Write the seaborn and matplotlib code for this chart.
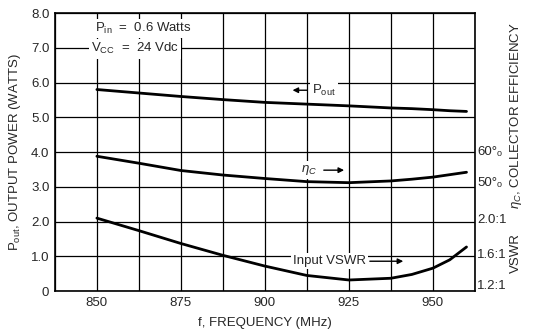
import matplotlib
matplotlib.use("Agg")
import matplotlib.pyplot as plt
import seaborn as sns
import pandas as pd
import numpy as np

freq = [850, 862.5, 875, 887.5, 900, 912.5, 925, 937.5, 943.75, 950, 955, 960]
pout = [5.80, 5.70, 5.60, 5.51, 5.43, 5.38, 5.33, 5.27, 5.25, 5.22, 5.19, 5.17]
eff = [3.88, 3.68, 3.47, 3.34, 3.24, 3.15, 3.12, 3.17, 3.22, 3.28, 3.35, 3.42]
vswr = [2.10, 1.74, 1.37, 1.03, 0.72, 0.45, 0.32, 0.37, 0.48, 0.66, 0.90, 1.27]

x_ticks = [850, 875, 900, 925, 950]
y_ticks = [0, 1, 2, 3, 4, 5, 6, 7, 8]
y_labels = ["0", "1.0", "2.0", "3.0", "4.0", "5.0", "6.0", "7.0", "8.0"]
right_pos = [4.0, 3.1, 2.05, 1.05, 0.15]
right_labels = ["60°\u2092", "50°\u2092", "2.0:1", "1.6:1", "1.2:1"]

sns.set_theme(style="white")
plt.rcParams['font.family'] = ['Liberation Sans Narrow', 'Liberation Sans', 'DejaVu Sans']
plt.rcParams['mathtext.fontset'] = 'custom'
plt.rcParams['mathtext.rm'] = 'Liberation Sans'
plt.rcParams['mathtext.it'] = 'Liberation Sans:italic'

FS = 9.5
fig = plt.figure(figsize=(5.33, 3.35), dpi=100)
ax = fig.add_axes([0.103, 0.131, 0.788, 0.830])

df = pd.DataFrame({"f": freq * 3,
                   "v": pout + eff + vswr,
                   "s": ["pout"] * len(freq) + ["eff"] * len(freq) + ["vswr"] * len(freq)})
for s in ["pout", "eff", "vswr"]:
    sub = df[df.s == s]
    sns.lineplot(x=sub.f, y=sub.v, ax=ax, color="black", lw=2.0, estimator=None, sort=True)

ax.set_xlim(837.5, 962.5)
ax.set_ylim(0, 8)
ax.set_xticks(x_ticks)
ax.set_xticks(np.arange(837.5, 962.6, 12.5), minor=True)
ax.set_xticklabels([str(t) for t in x_ticks], fontsize=FS)
ax.set_yticks(y_ticks)
ax.set_yticklabels(y_labels, fontsize=FS)
ax.set_axisbelow(True)
ax.grid(True, which="both", color="black", lw=0.9, zorder=0)
ax.tick_params(axis="both", which="both", length=0, pad=4)
for sp in ax.spines.values():
    sp.set_color("black")
    sp.set_linewidth(1.2)
ax.set_xlabel("f, FREQUENCY (MHz)", fontsize=FS, labelpad=6)
ax.set_ylabel(r"P$_{\mathrm{out}}$, OUTPUT POWER (WATTS)", fontsize=FS, labelpad=6)

for p, l in zip(right_pos, right_labels):
    ax.text(1.006, p / 8, l, transform=ax.transAxes, fontsize=FS, va="center", ha="left")
fig.text(0.968, 0.655, r"$\eta_C$, COLLECTOR EFFICIENCY", rotation=90, fontsize=FS,
         va="center", ha="center")
fig.text(0.968, 0.245, "VSWR", rotation=90, fontsize=FS, va="center", ha="center")

box = dict(facecolor="white", edgecolor="none", pad=1.5)
ax.text(849.3, 7.55, r"P$_{\mathrm{in}}$  =  0.6 Watts", fontsize=FS, va="center", ha="left",
        bbox=box, zorder=10)
ax.text(848.3, 6.97, r"V$_{\mathrm{CC}}$  =  24 Vdc", fontsize=FS, va="center", ha="left",
        bbox=box, zorder=10)

ax.annotate("", xy=(907.4, 5.78), xytext=(913.4, 5.78), zorder=10,
            arrowprops=dict(arrowstyle="-|>", color="black", lw=1, mutation_scale=8))
ax.text(914.0, 5.78, r"P$_{\mathrm{out}}$", fontsize=FS, va="center", ha="left",
        bbox=box, zorder=10)
ax.text(910.8, 3.48, r"$\eta_C$", fontsize=FS, va="center", ha="left",
        bbox=box, zorder=10)
ax.annotate("", xy=(924.4, 3.48), xytext=(916.7, 3.48), zorder=10,
            arrowprops=dict(arrowstyle="-|>", color="black", lw=1, mutation_scale=8))
ax.text(908.3, 0.86, "Input VSWR", fontsize=FS, va="center", ha="left",
        bbox=box, zorder=10)
ax.annotate("", xy=(942, 0.86), xytext=(930.4, 0.86), zorder=10,
            arrowprops=dict(arrowstyle="-|>", color="black", lw=1, mutation_scale=8))

fig.savefig("out.png", dpi=100)
